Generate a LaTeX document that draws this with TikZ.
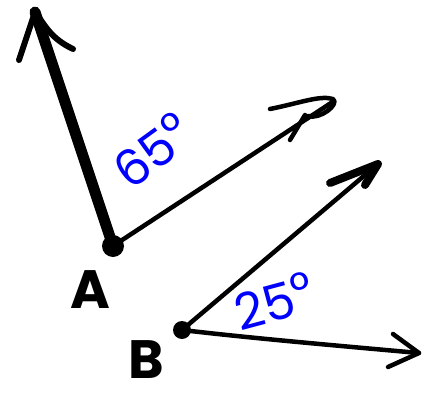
\documentclass[tikz,border=0pt]{standalone}
\usepackage{fontspec}
\setmainfont{Poppins}
\begin{document}
\begin{tikzpicture}[x=1pt,y=-1pt,line cap=round,line join=round,
  ray/.style={draw=black,line width=4.5pt},
  thickray/.style={draw=black,line width=11pt},
  barb/.style={draw=black,line width=6pt},
  lbl/.style={font=\fontsize{54}{54}\selectfont\bfseries,text=black,inner sep=0pt},
  ang/.style={font=\fontsize{50}{50}\selectfont,text=blue,inner sep=0pt}]
\useasboundingbox (0,0) rectangle (424,394);
% vertices
\coordinate (A) at (113,246);
\coordinate (B) at (182,330);
\fill (A) circle (11);
\fill (B) circle (9);
% angle A
\coordinate (Atop) at (35,12);
\coordinate (Aray) at (334,101);
\draw[thickray] (A) -- (Atop);
\draw[barb] (Atop) -- (19,60);
\draw[barb] (Atop) .. controls (45,25) and (50,38) .. (73,49);
\draw[ray] (A) -- (Aray);
\draw[ray] (270,109) .. controls (300,103) and (320,95) .. (333,99) .. controls (340,104) and (320,120) .. (308,116);
\draw[ray] (305,115) -- (290,140);
% angle B
\coordinate (Bup) at (378,164);
\coordinate (Bright) at (419,353);
\draw[ray] (B) -- (Bup);
\draw[line width=8pt] (330,183) -- (Bup) -- (365,185);
\draw[ray] (B) .. controls (250,338) and (330,345) .. (Bright);
\draw[ray] (393,334) -- (Bright) -- (388,367);
% labels
\node[lbl] (la) at (90,290) {A};
\node[lbl] (lb) at (146,360) {B};
\node[ang,rotate=36] (a65) at (152,150) {65\raisebox{0.12em}{°}};
\node[ang,rotate=15] (a25) at (274,301) {25\raisebox{0.12em}{°}};
\end{tikzpicture}
\end{document}
